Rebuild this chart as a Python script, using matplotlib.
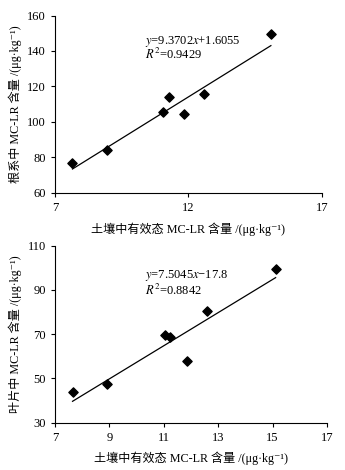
import matplotlib
matplotlib.use("Agg")
import matplotlib.pyplot as plt
import numpy as np

plt.rcParams['font.family'] = ['Liberation Serif', 'Noto Sans CJK SC', 'DejaVu Serif']
plt.rcParams['mathtext.fontset'] = 'stix'
plt.rcParams['font.size'] = 9

# soil available MC-LR (x) vs root / leaf MC-LR
soil_root = [7.66, 8.94, 11.06, 11.26, 11.82, 12.58, 15.09]
root_mclr = [76.9, 84.1, 105.8, 113.9, 104.3, 115.6, 149.3]
root_fit = (9.3702, 1.6055, 0.9429)

soil_leaf = [7.65, 8.92, 11.06, 11.24, 11.86, 12.59, 15.11]
leaf_mclr = [43.7, 47.3, 69.5, 68.6, 57.7, 80.6, 99.3]
leaf_fit = (7.5045, -17.8, 0.8842)

xlabel = '土壤中有效态 MC-LR 含量 /(μg·kg⁻¹)'
ylabel_root = '根系中 MC-LR 含量 /(μg·kg⁻¹)'
ylabel_leaf = '叶片中 MC-LR 含量 /(μg·kg⁻¹)'


def draw(ax, xs, ys, fit, eq, xlim, xticks, ylim, yticks, ylabel, txt_pos):
    k, b, r2 = fit
    ax.scatter(xs, ys, marker='D', s=22, color='black', zorder=3)
    lx = np.array([min(xs), max(xs)])
    ax.plot(lx, k * lx + b, color='black', lw=0.9)
    ax.set_xlim(*xlim)
    ax.set_ylim(*ylim)
    ax.set_xticks(xticks)
    ax.set_yticks(yticks)
    ax.spines['top'].set_visible(False)
    ax.spines['right'].set_visible(False)
    ax.tick_params(direction='out', length=3, width=0.8, labelsize=9)
    ax.set_xlabel(xlabel, fontsize=8.7, labelpad=6)
    ax.set_ylabel(ylabel, fontsize=8.7, labelpad=4)
    ax.text(txt_pos[0], txt_pos[1], eq, transform=ax.transAxes,
            va='center', fontsize=9)
    ax.text(txt_pos[0], txt_pos[2], '$R^2$=%.4f' % r2, transform=ax.transAxes,
            va='center', fontsize=9)


fig = plt.figure(figsize=(3.45, 4.70), dpi=100)
ax1 = fig.add_axes([0.159, 0.590, 0.774, 0.377])
ax2 = fig.add_axes([0.159, 0.101, 0.789, 0.376])

draw(ax1, soil_root, root_mclr, root_fit, '$y$=9.3702$x$+1.6055',
     (7, 17), [7, 12, 17], (60, 160), [60, 80, 100, 120, 140, 160],
     ylabel_root, (0.337, 0.855, 0.778))
draw(ax2, soil_leaf, leaf_mclr, leaf_fit, '$y$=7.5045$x$−17.8',
     (7, 17), [7, 9, 11, 13, 15, 17], (30, 110), [30, 50, 70, 90, 110],
     ylabel_leaf, (0.333, 0.832, 0.748))

fig.savefig('out.png', dpi=100)
